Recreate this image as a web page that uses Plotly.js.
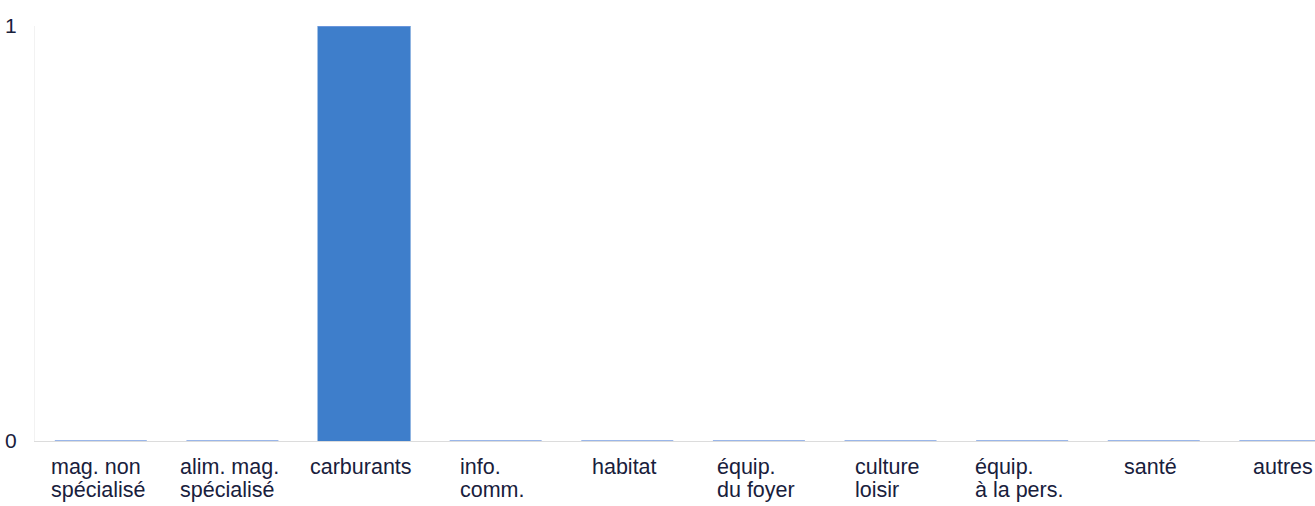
<!DOCTYPE html>
<html>
<head>
<meta charset="utf-8">
<script src="https://cdn.plot.ly/plotly-3.0.1.min.js"></script>
<style>html,body{margin:0;padding:0;background:#fff;}#chart{width:1315px;height:506px;}</style>
</head>
<body>
<div id="chart"></div>
<script>
const categories = ['mag. non<br>spécialisé', 'alim. mag.<br>spécialisé', 'carburants', 'info.<br>comm.', 'habitat', 'équip.<br>du foyer', 'culture<br>loisir', 'équip.<br>à la pers.', 'santé', 'autres'];
const values = [0, 0, 1, 0, 0, 0, 0, 0, 0, 0];
const yTickVals = [0, 1];
const yTickText = ['0', '1'];

const textColor = '#18203c';
const labelFont = 21.5;
const fontFamily = '"Liberation Sans", Arial, sans-serif';

// measure text widths to left-align lines inside a centred block
const cvs = document.createElement('canvas');
const ctx = cvs.getContext('2d');
ctx.font = labelFont + 'px "Liberation Sans"';

const annotations = [];
categories.forEach(function (c, i) {
  const lines = c.split('<br>');
  const maxW = Math.max.apply(null, lines.map(function (l) { return ctx.measureText(l).width; }));
  lines.forEach(function (l, j) {
    annotations.push({
      x: i, xref: 'x', y: 0, yref: 'paper',
      text: l, showarrow: false,
      xanchor: 'left', yanchor: 'top',
      xshift: -maxW / 2 - 5,
      yshift: -12 - j * 23,
      font: {family: fontFamily, size: labelFont, color: textColor}
    });
  });
});

const trace = {
  type: 'bar',
  x: categories.map(function (c, i) { return i; }),
  y: values,
  marker: {color: '#3e7ecb', line: {width: 0}},
  error_y: {
    type: 'data', symmetric: true,
    array: values.map(function (v) { return v === 0 ? 0 : null; }),
    color: '#7a9fe2', thickness: 1.6, width: 46
  },
  hoverinfo: 'skip'
};

const layout = {
  width: 1315, height: 506,
  margin: {l: 35, r: 0, t: 26, b: 65},
  paper_bgcolor: '#ffffff', plot_bgcolor: '#ffffff',
  showlegend: false,
  bargap: 0.293,
  font: {family: fontFamily, color: textColor},
  xaxis: {
    range: [-0.5, 9.225],
    showticklabels: false, showgrid: false, zeroline: false,
    showline: true, linecolor: '#dcdcdc', linewidth: 1,
    layer: 'below traces', fixedrange: true
  },
  yaxis: {
    range: [0, 1],
    tickvals: yTickVals, ticktext: yTickText,
    showgrid: false, zeroline: false,
    showline: true, linecolor: '#f2f2f2', linewidth: 1,
    ticks: '', ticklabelstandoff: 13,
    tickfont: {family: fontFamily, size: 21, color: textColor},
    layer: 'below traces', fixedrange: true
  },
  annotations: annotations
};

Plotly.newPlot('chart', [trace], layout, {displayModeBar: false, staticPlot: true});
</script>
</body>
</html>
